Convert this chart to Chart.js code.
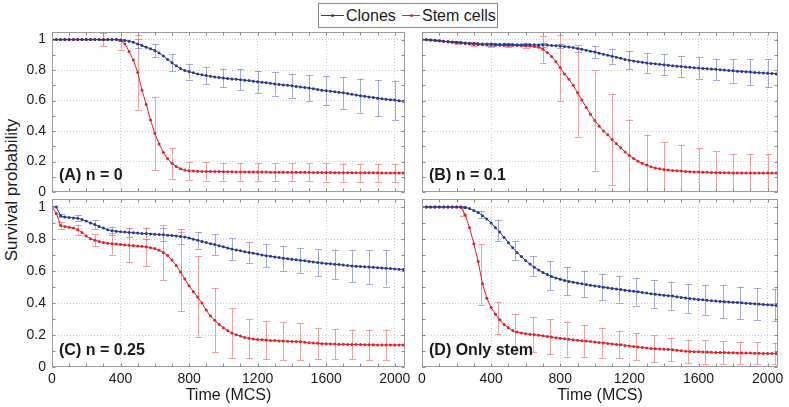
<!DOCTYPE html>
<html><head><meta charset="utf-8">
<script src="https://cdn.jsdelivr.net/npm/chart.js@4.4.0/dist/chart.umd.min.js"></script>
<style>
html,body{margin:0;padding:0;background:#fff;}
body{width:789px;height:407px;position:relative;overflow:hidden;font-family:'Liberation Sans',Arial,Helvetica,sans-serif;color:#1a1a1a;}
canvas{position:absolute;}
#legend{position:absolute;left:318px;top:3px;width:178px;height:23px;border:1px solid #8a8a8a;background:#fff;font-size:16px;}
#legend .ln{position:absolute;top:11px;height:1px;}
#legend .dot{position:absolute;top:10px;width:3px;height:3px;border-radius:50%;}
#legend .tx{position:absolute;top:0;line-height:23px;white-space:nowrap;}
#ytitle{position:absolute;left:12px;top:190px;transform:translate(-50%,-50%) rotate(-90deg);font-size:17px;white-space:nowrap;}
</style></head>
<body>
<div id="legend"></div>
<div id="ytitle"></div>
<canvas id="cA" width="410" height="168" style="left:0px;top:28px"></canvas>
<canvas id="cB" width="371" height="168" style="left:412px;top:28px"></canvas>
<canvas id="cC" width="419" height="210" style="left:0px;top:195px"></canvas>
<canvas id="cD" width="375" height="210" style="left:412px;top:195px"></canvas>
<script>
const seriesNames = ['Clones', 'Stem cells'];
const panelLabels = ['(A) n = 0', '(B) n = 0.1', '(C) n = 0.25', '(D) Only stem'];
const xTitle = 'Time (MCS)';
const yTitle = 'Survival probability';
const xMajor = [0, 400, 800, 1200, 1600, 2000];
const xMinor = [0,100,200,300,400,500,600,700,800,900,1000,1100,1200,1300,1400,1500,1600,1700,1800,1900,2000];
const yMajor = [0, 0.2, 0.4, 0.6, 0.8, 1];
const yMajorLabels = ['0', '0.2', '0.4', '0.6', '0.8', '1'];
const yMinor = [0, 0.1, 0.2, 0.3, 0.4, 0.5, 0.6, 0.7, 0.8, 0.9, 1];

const times = [0,25,50,75,100,125,150,175,200,225,
 250,275,300,325,350,375,400,425,450,475,
 500,525,550,575,600,625,650,675,700,725,
 750,775,800,825,850,875,900,925,950,975,
 1000,1025,1050,1075,1100,1125,1150,1175,1200,1225,
 1250,1275,1300,1325,1350,1375,1400,1425,1450,1475,
 1500,1525,1550,1575,1600,1625,1650,1675,1700,1725,
 1750,1775,1800,1825,1850,1875,1900,1925,1950,1975,
 2000,2025,2050];

// Panel A (n = 0)
const clonesA = [1,1,1,1,1,1,1,1,1,1,
 1,1,1,1,1,1,0.998,0.995,0.99,0.982,
 0.972,0.962,0.95,0.94,0.928,0.912,0.893,0.87,0.848,0.828,
 0.81,0.798,0.79,0.782,0.775,0.769,0.764,0.759,0.755,0.751,
 0.748,0.745,0.742,0.74,0.737,0.734,0.731,0.727,0.724,0.721,
 0.717,0.713,0.709,0.706,0.703,0.7,0.697,0.693,0.689,0.686,
 0.682,0.678,0.673,0.668,0.664,0.661,0.658,0.654,0.651,0.646,
 0.641,0.636,0.632,0.628,0.624,0.62,0.616,0.612,0.609,0.606,
 0.603,0.599,0.595];
const stemA = [1,1,1,1,1,1,1,1,1,1,
 1,1,1,1,1,1,0.995,0.972,0.922,0.866,
 0.785,0.668,0.575,0.472,0.385,0.315,0.26,0.218,0.188,0.167,
 0.153,0.144,0.139,0.137,0.136,0.135,0.135,0.135,0.134,0.134,
 0.133,0.133,0.133,0.132,0.132,0.132,0.132,0.131,0.131,0.131,
 0.131,0.13,0.13,0.13,0.13,0.13,0.129,0.129,0.129,0.129,
 0.129,0.128,0.128,0.128,0.128,0.128,0.127,0.127,0.127,0.127,
 0.127,0.126,0.126,0.126,0.126,0.126,0.126,0.125,0.125,0.125,
 0.125,0.125,0.125];
const errTimesA = [100,200,300,400,500,600,700,800,900,1000,1100,1200,1300,1400,1500,1600,1700,1800,1900,2000];
const errClonesA = [0,0,0.005,0.008,0.03,0.045,0.055,0.052,0.058,0.062,0.068,0.072,0.076,0.08,0.088,0.095,0.105,0.112,0.12,0.128];
const errStemA = [0,0,0.045,0.06,0.245,0.24,0.1,0.06,0.06,0.06,0.06,0.06,0.06,0.06,0.06,0.06,0.06,0.06,0.06,0.06];

// Panel B (n = 0.1)
const clonesB = [1,0.999,0.998,0.996,0.993,0.99,0.987,0.985,0.983,0.981,
 0.978,0.976,0.974,0.973,0.972,0.971,0.971,0.97,0.969,0.969,
 0.968,0.968,0.967,0.967,0.966,0.966,0.966,0.965,0.965,0.964,
 0.962,0.96,0.958,0.955,0.952,0.948,0.942,0.936,0.93,0.924,
 0.918,0.911,0.904,0.897,0.891,0.884,0.877,0.87,0.865,0.86,
 0.855,0.851,0.847,0.844,0.841,0.838,0.835,0.832,0.829,0.826,
 0.824,0.821,0.818,0.815,0.813,0.811,0.809,0.807,0.805,0.802,
 0.8,0.797,0.795,0.793,0.791,0.789,0.787,0.785,0.783,0.781,
 0.779,0.777,0.775];
const stemB = [1,0.999,0.997,0.995,0.992,0.988,0.985,0.983,0.98,0.977,
 0.975,0.972,0.97,0.968,0.966,0.965,0.964,0.963,0.963,0.962,
 0.962,0.961,0.961,0.96,0.96,0.958,0.955,0.95,0.937,0.915,
 0.89,0.855,0.815,0.775,0.74,0.7,0.652,0.604,0.555,0.51,
 0.47,0.432,0.4,0.375,0.345,0.316,0.29,0.262,0.24,0.22,
 0.202,0.188,0.177,0.166,0.158,0.152,0.147,0.144,0.141,0.139,
 0.137,0.135,0.133,0.132,0.131,0.13,0.129,0.128,0.127,0.127,
 0.126,0.126,0.125,0.125,0.125,0.125,0.125,0.124,0.124,0.124,
 0.124,0.124,0.124];
const errTimesB = [100,200,300,400,500,600,700,800,900,1000,1100,1200,1300,1400,1500,1600,1700,1800,1900,2000];
const errClonesB = [0.004,0.008,0.01,0.01,0.01,0.01,0.012,0.015,0.02,0.04,0.05,0.06,0.066,0.068,0.07,0.07,0.07,0.078,0.085,0.093];
const errStemB = [0.004,0.008,0.012,0.012,0.012,0.012,0.09,0.215,0.29,0.33,0.3,0.235,0.2,0.18,0.17,0.16,0.14,0.125,0.125,0.125];

// Panel C (n = 0.25)
const clonesC = [1,1,0.945,0.938,0.935,0.932,0.93,0.922,0.912,0.9,
 0.89,0.878,0.868,0.858,0.852,0.848,0.845,0.843,0.841,0.839,
 0.837,0.835,0.834,0.832,0.83,0.828,0.826,0.824,0.822,0.819,
 0.816,0.812,0.806,0.799,0.792,0.785,0.778,0.771,0.765,0.758,
 0.751,0.744,0.737,0.732,0.727,0.721,0.716,0.711,0.706,0.7,
 0.696,0.692,0.688,0.684,0.68,0.677,0.674,0.67,0.667,0.664,
 0.66,0.657,0.653,0.65,0.647,0.645,0.642,0.64,0.637,0.634,
 0.632,0.63,0.628,0.626,0.625,0.623,0.621,0.619,0.617,0.615,
 0.613,0.611,0.609];
const stemC = [1,0.96,0.885,0.878,0.873,0.868,0.858,0.84,0.818,0.802,
 0.792,0.784,0.778,0.774,0.771,0.768,0.765,0.763,0.761,0.758,
 0.756,0.754,0.751,0.746,0.74,0.73,0.716,0.697,0.668,0.635,
 0.594,0.55,0.508,0.47,0.438,0.4,0.356,0.318,0.292,0.266,
 0.245,0.228,0.212,0.202,0.193,0.185,0.179,0.175,0.172,0.17,
 0.168,0.166,0.165,0.163,0.162,0.161,0.16,0.159,0.158,0.155,
 0.152,0.15,0.148,0.146,0.145,0.144,0.143,0.142,0.142,0.141,
 0.141,0.14,0.14,0.139,0.139,0.139,0.138,0.138,0.138,0.138,
 0.138,0.138,0.138];
const errTimesC = [50,150,250,350,450,550,650,750,850,950,1050,1150,1250,1350,1450,1550,1650,1750,1850,1950];
const errClonesC = [0.01,0.018,0.026,0.025,0.03,0.037,0.04,0.047,0.053,0.064,0.068,0.063,0.072,0.079,0.079,0.084,0.092,0.1,0.107,0.114];
const errStemC = [0.021,0.032,0.037,0.068,0.105,0.12,0.17,0.247,0.253,0.2,0.155,0.123,0.121,0.117,0.115,0.095,0.096,0.093,0.095,0.095];

// Panel D (only stem)
const clonesD = [1,1,1,1,1,1,1,1,1,1,
 0.997,0.99,0.978,0.965,0.945,0.925,0.9,0.87,0.843,0.81,
 0.776,0.745,0.716,0.69,0.666,0.643,0.623,0.606,0.591,0.578,
 0.566,0.556,0.548,0.541,0.535,0.53,0.525,0.52,0.515,0.511,
 0.507,0.503,0.499,0.495,0.491,0.487,0.484,0.48,0.477,0.473,
 0.47,0.466,0.462,0.458,0.455,0.452,0.449,0.446,0.443,0.439,
 0.435,0.431,0.428,0.425,0.422,0.42,0.417,0.414,0.412,0.41,
 0.408,0.406,0.404,0.403,0.401,0.399,0.397,0.395,0.393,0.391,
 0.389,0.387,0.385];
const stemD = [1,1,1,1,1,1,1,1,1,1,
 0.95,0.87,0.77,0.66,0.52,0.43,0.372,0.33,0.295,0.266,
 0.245,0.228,0.218,0.212,0.208,0.205,0.202,0.199,0.195,0.19,
 0.187,0.183,0.18,0.176,0.173,0.17,0.167,0.164,0.162,0.159,
 0.156,0.153,0.15,0.147,0.144,0.141,0.139,0.135,0.131,0.128,
 0.125,0.122,0.119,0.116,0.114,0.113,0.111,0.11,0.108,0.105,
 0.102,0.099,0.097,0.096,0.095,0.094,0.093,0.092,0.091,0.09,
 0.09,0.089,0.089,0.088,0.088,0.087,0.087,0.086,0.086,0.085,
 0.085,0.084,0.084];
const errTimesD = [240,340,440,540,640,740,840,940,1040,1140,1240,1340,1440,1540,1640,1740,1840,1940,2040];
const errClonesD = [0.005,0.023,0.066,0.06,0.063,0.089,0.089,0.08,0.083,0.083,0.087,0.086,0.087,0.091,0.096,0.105,0.101,0.101,0.101];
const errStemD = [0.026,0.19,0.1,0.11,0.11,0.11,0.11,0.102,0.094,0.086,0.084,0.084,0.073,0.074,0.073,0.071,0.071,0.068,0.068];

const FONT = "'Liberation Sans', Arial, Helvetica, sans-serif";
const BLUE = '#263a94', RED = '#e1222a';
const BLUE_ERR = 'rgba(120,138,200,0.7)', RED_ERR = 'rgba(238,120,120,0.7)';
const GRID = '#cdcdcd', FRAME = '#9c9c9c', TXT = '#1a1a1a';

// legend + y title as text
document.getElementById('ytitle').textContent = yTitle;
(function(){
  const lg = document.getElementById('legend');
  const items = [{c:BLUE, x:2, w:23, tx:27, name:seriesNames[0]}, {c:RED, x:83, w:18, tx:103, name:seriesNames[1]}];
  items.forEach(it => {
    const ln = document.createElement('div'); ln.className='ln'; ln.style.left=it.x+'px'; ln.style.width=it.w+'px'; ln.style.background=it.c; lg.appendChild(ln);
    const d = document.createElement('div'); d.className='dot'; d.style.left=(it.x+it.w/2-1.5)+'px'; d.style.background=it.c; lg.appendChild(d);
    const t = document.createElement('div'); t.className='tx'; t.style.left=it.tx+'px'; t.textContent=it.name; lg.appendChild(t);
  });
})();

function valueAt(vals, t) {
  for (let i = 0; i < times.length - 1; i++) {
    if (t >= times[i] && t <= times[i+1]) {
      const f = (t - times[i]) / (times[i+1] - times[i]);
      return vals[i] + f * (vals[i+1] - vals[i]);
    }
  }
  return vals[vals.length - 1];
}

const errorBarPlugin = {
  id: 'errorBars',
  beforeDatasetsDraw(chart) {
    const {ctx, chartArea: a, scales: {x, y}} = chart;
    ctx.save();
    ctx.beginPath(); ctx.rect(a.left, a.top, a.right - a.left, a.bottom - a.top); ctx.clip();
    chart.data.datasets.forEach(ds => {
      const eb = ds.errorBars; if (!eb) return;
      ctx.strokeStyle = eb.color; ctx.lineWidth = 1;
      eb.t.forEach((t, i) => {
        const sd = eb.sd[i]; if (!sd) return;
        const m = valueAt(eb.vals, t);
        const px = Math.round(x.getPixelForValue(t)) + 0.5;
        const p1 = y.getPixelForValue(m - sd), p2 = y.getPixelForValue(m + sd);
        ctx.beginPath();
        ctx.moveTo(px, p1); ctx.lineTo(px, p2);
        ctx.moveTo(px - 3.5, Math.round(p1) + 0.5); ctx.lineTo(px + 3.5, Math.round(p1) + 0.5);
        ctx.moveTo(px - 3.5, Math.round(p2) + 0.5); ctx.lineTo(px + 3.5, Math.round(p2) + 0.5);
        ctx.stroke();
      });
    });
    ctx.restore();
  }
};

const framePlugin = {
  id: 'frame',
  afterDatasetsDraw(chart, args, opts) {
    const {ctx, chartArea: a, scales: {x, y}} = chart;
    ctx.save();
    ctx.strokeStyle = FRAME; ctx.lineWidth = 1;
    const L = Math.round(a.left) + 0.5, R = Math.round(a.right) - 0.5, T = Math.round(a.top) + 0.5, B = Math.round(a.bottom) - 0.5;
    ctx.strokeRect(L, T, R - L, B - T);
    ctx.strokeStyle = '#8a8a8a';
    ctx.beginPath();
    xMinor.forEach(v => { const px = Math.round(x.getPixelForValue(v)) + 0.5; ctx.moveTo(px, B); ctx.lineTo(px, B - 3); ctx.moveTo(px, T); ctx.lineTo(px, T + 3); });
    yMinor.forEach(v => { const py = Math.round(y.getPixelForValue(v)) + 0.5; ctx.moveTo(L, py); ctx.lineTo(L + 3, py); ctx.moveTo(R, py); ctx.lineTo(R - 3, py); });
    ctx.stroke();
    ctx.fillStyle = TXT;
    ctx.font = 'bold 16px ' + FONT;
    ctx.textBaseline = 'alphabetic'; ctx.textAlign = 'left';
    ctx.fillText(opts.text, a.left + 7, a.bottom - 12);
    ctx.restore();
  }
};

function makePanel(id, label, clones, stem, errT, errCl, errSt, showX, showY, padRight) {
  const toXY = vals => times.map((t, i) => ({x: t, y: vals[i]}));
  const ds = (name, vals, col, errCol, sd) => ({
    label: name, data: toXY(vals), borderColor: col, backgroundColor: col,
    borderWidth: 1, pointRadius: 1.5, pointBorderWidth: 0, pointBackgroundColor: col,
    tension: 0, errorBars: {t: errT, sd: sd, vals: vals, color: errCol}
  });
  return new Chart(document.getElementById(id), {
    type: 'line',
    data: {datasets: [ds(seriesNames[0], clones, BLUE, BLUE_ERR, errCl), ds(seriesNames[1], stem, RED, RED_ERR, errSt)]},
    options: {
      responsive: false, animation: false, devicePixelRatio: 1,
      layout: {padding: {top: 4, right: padRight, left: 0, bottom: 0}},
      plugins: {legend: {display: false}, tooltip: {enabled: false}, frame: {text: label}},
      scales: {
        x: {
          type: 'linear', min: 0, max: 2060,
          afterBuildTicks: s => { s.ticks = xMinor.map(v => ({value: v})); },
          afterFit: s => { s.height = showX ? 38 : 4; s.paddingLeft = 0; s.paddingRight = 0; },
          ticks: {display: showX, autoSkip: false, maxRotation: 0, minRotation: 0, padding: 4, color: TXT,
                  font: {family: FONT, size: 14},
                  callback: v => xMajor.includes(v) ? String(v) : ''},
          grid: {drawTicks: false, lineWidth: 1,
                 color: c => (c.tick && xMajor.includes(c.tick.value) && c.tick.value > 0 && c.tick.value < 2060) ? GRID : 'rgba(0,0,0,0)'},
          border: {display: false, dash: [1, 2]},
          title: {display: showX, text: xTitle, color: TXT, font: {family: FONT, size: 16}, padding: {top: 0, bottom: 0}}
        },
        y: {
          min: 0, max: 1.05,
          afterBuildTicks: s => { s.ticks = yMinor.map(v => ({value: v})); },
          afterFit: s => { s.width = showY ? 52 : 10; s.paddingTop = 0; s.paddingBottom = 0; },
          ticks: {display: showY, autoSkip: false, padding: 6, color: TXT, font: {family: FONT, size: 14},
                  callback: v => { const k = yMajor.findIndex(m => Math.abs(m - v) < 1e-6); return k >= 0 ? yMajorLabels[k] : ''; }},
          grid: {drawTicks: false, lineWidth: 1,
                 color: c => (c.tick && c.tick.value > 0.01 && yMajor.some(m => Math.abs(m - c.tick.value) < 1e-6)) ? GRID : 'rgba(0,0,0,0)'},
          border: {display: false, dash: [1, 2]}
        }
      }
    },
    plugins: [errorBarPlugin, framePlugin]
  });
}

makePanel('cA', panelLabels[0], clonesA, stemA, errTimesA, errClonesA, errStemA, false, true, 5);
makePanel('cB', panelLabels[1], clonesB, stemB, errTimesB, errClonesB, errStemB, false, false, 5);
makePanel('cC', panelLabels[2], clonesC, stemC, errTimesC, errClonesC, errStemC, true, true, 14);
makePanel('cD', panelLabels[3], clonesD, stemD, errTimesD, errClonesD, errStemD, true, false, 9);
</script>
</body></html>
